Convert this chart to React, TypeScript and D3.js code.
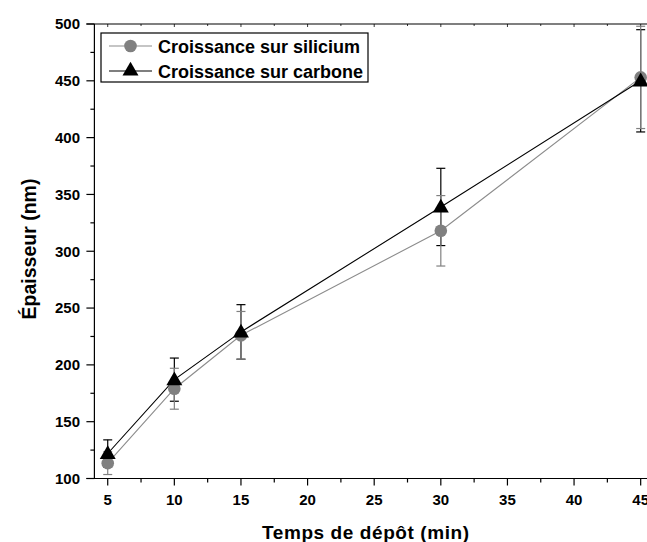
import React from "react";
import * as d3 from "d3";

const times = [5, 10, 15, 30, 45];
const silicium = [113.5, 179, 226, 318, 453];
const siliciumErr = [10, 18, 21, 31, 45];
const carbone = [122, 187, 229, 339, 450];
const carboneErr = [12, 19, 24, 34, 45];
const xMajorTicks = [5, 10, 15, 20, 25, 30, 35, 40, 45];
const xMinorTicks = [7.5, 12.5, 17.5, 22.5, 27.5, 32.5, 37.5, 42.5];
const yMajorTicks = [100, 150, 200, 250, 300, 350, 400, 450, 500];
const yMinorTicks = [125, 175, 225, 275, 325, 375, 425, 475];
const seriesNames = ["Croissance sur silicium", "Croissance sur carbone"];

const W = 647;
const H = 542;
const FONT = "'Liberation Sans', Arial, Helvetica, sans-serif";
const GRAY = "#808080";
const GRAY_LINE = "#8c8c8c";

export default function App() {
  const x = d3.scaleLinear().domain([4, 46]).range([94.4, 654]);
  const y = d3.scaleLinear().domain([100, 500]).range([478.5, 24]);
  const left = x(4);
  const bottom = y(100);
  const top = y(500);

  const line = d3
    .line<[number, number]>()
    .x((d) => x(d[0]))
    .y((d) => y(d[1]));

  const siData: [number, number][] = times.map((t, i) => [t, silicium[i]]);
  const caData: [number, number][] = times.map((t, i) => [t, carbone[i]]);

  const tri = d3.symbol().type(d3.symbolTriangle).size(110)();
  const capW = 4.5;

  const errBars = (vals: number[], errs: number[], color: string, sw: number) =>
    times.map((t, i) => {
      const cx = x(t);
      const y1 = y(vals[i] + errs[i]);
      const y2 = y(vals[i] - errs[i]);
      return (
        <g key={i} stroke={color} strokeWidth={sw}>
          <line x1={cx} x2={cx} y1={y1} y2={y2} />
          <line x1={cx - capW} x2={cx + capW} y1={y1} y2={y1} />
          <line x1={cx - capW} x2={cx + capW} y1={y2} y2={y2} />
        </g>
      );
    });

  return (
    <svg
      width={W}
      height={H}
      style={{ position: "fixed", left: 0, top: 0, background: "#fff" }}
      fontFamily={FONT}
    >
      <rect x={0} y={0} width={W} height={H} fill="#fff" />
      {/* frame */}
      <line x1={left} x2={left} y1={top} y2={bottom} stroke="#000" strokeWidth={1.2} />
      <line x1={left - 8} x2={W + 10} y1={bottom} y2={bottom} stroke="#000" strokeWidth={1.2} />
      <line x1={left - 8} x2={W + 10} y1={top} y2={top} stroke="#000" strokeWidth={1.2} />

      {/* y ticks */}
      {yMajorTicks.map((v) => (
        <g key={"ym" + v}>
          <line x1={left - 8} x2={left} y1={y(v)} y2={y(v)} stroke="#000" strokeWidth={1.2} />
          <text
            x={80}
            y={y(v) + 5.3}
            textAnchor="end"
            fontSize={15}
            fontWeight="bold"
          >
            {v}
          </text>
        </g>
      ))}
      {yMinorTicks.map((v) => (
        <line key={"yn" + v} x1={left - 4} x2={left} y1={y(v)} y2={y(v)} stroke="#000" strokeWidth={1.2} />
      ))}

      {/* x ticks */}
      {xMajorTicks.map((v) => (
        <g key={"xm" + v}>
          <line x1={x(v)} x2={x(v)} y1={bottom} y2={bottom + 7} stroke="#000" strokeWidth={1.2} />
          <line x1={x(v)} x2={x(v)} y1={top} y2={top + 3} stroke="#000" strokeWidth={0.8} />
          <text x={x(v)} y={505} textAnchor="middle" fontSize={15} fontWeight="bold">
            {v}
          </text>
        </g>
      ))}
      {xMinorTicks.map((v) => (
        <g key={"xn" + v}>
          <line x1={x(v)} x2={x(v)} y1={bottom} y2={bottom + 4} stroke="#000" strokeWidth={1.2} />
          <line x1={x(v)} x2={x(v)} y1={top} y2={top + 2} stroke="#000" strokeWidth={0.8} />
        </g>
      ))}

      {/* axis titles */}
      <text
        x={365.5}
        y={539}
        textAnchor="middle"
        fontSize={19}
        fontWeight="bold"
        textLength={207}
        lengthAdjust="spacing"
      >
        Temps de dépôt (min)
      </text>
      <text
        transform={`translate(36,${249}) rotate(-90)`}
        textAnchor="middle"
        fontSize={19.5}
        fontWeight="bold"
      >
        Épaisseur (nm)
      </text>

      {/* error bars */}
      {errBars(carbone, carboneErr, "#000", 1.2)}
      {errBars(silicium, siliciumErr, GRAY, 1.2)}

      {/* lines */}
      <path d={line(siData) || ""} fill="none" stroke={GRAY_LINE} strokeWidth={1.1} />
      <path d={line(caData) || ""} fill="none" stroke="#000" strokeWidth={1.1} />

      {/* markers */}
      {siData.map((d, i) => (
        <circle key={"c" + i} cx={x(d[0])} cy={y(d[1])} r={6.3} fill={GRAY} />
      ))}
      {caData.map((d, i) => (
        <path key={"t" + i} d={tri || ""} transform={`translate(${x(d[0])},${y(d[1]) + 1})`} fill="#000" />
      ))}

      {/* legend */}
      <rect x={101} y={33} width={267} height={49} fill="#fff" stroke="#000" strokeWidth={1.2} />
      <line x1={109} x2={152} y1={46} y2={46} stroke={GRAY_LINE} strokeWidth={1.1} />
      <circle cx={130.5} cy={46} r={6.3} fill={GRAY} />
      <text x={158} y={52.5} fontSize={18} fontWeight="bold">
        {seriesNames[0]}
      </text>
      <line x1={109} x2={152} y1={71} y2={71} stroke="#000" strokeWidth={1.1} />
      <path d={tri || ""} transform={`translate(130.5,${71})`} fill="#000" />
      <text x={158} y={77.5} fontSize={18} fontWeight="bold">
        {seriesNames[1]}
      </text>
    </svg>
  );
}
